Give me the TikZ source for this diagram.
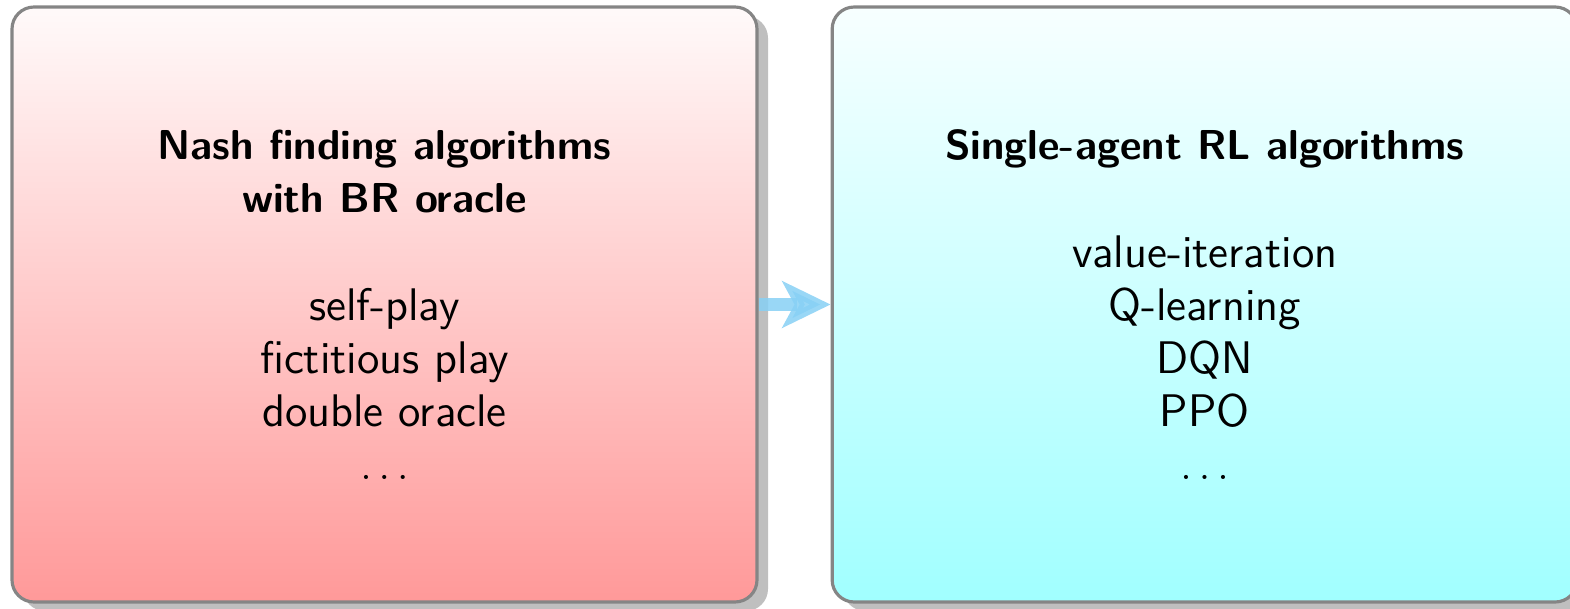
\documentclass[tikz,border=0pt]{standalone}
\usepackage{tikz}
\usetikzlibrary{shadows, arrows.meta, positioning}
\definecolor{arrowblue}{RGB}{135,208,245}
\newcommand{\boxtitle}[1]{{\fontsize{11.9}{15.1}\selectfont\bfseries #1}}

\begin{document}
\begin{tikzpicture}[
        algobox/.style={draw=black!48, line width=0.9pt, rounded corners=0.22cm, minimum width=7.45cm, minimum height=5.95cm, align=center, font=\sffamily\fontsize{13}{15.1}\selectfont, drop shadow={shadow xshift=0.11cm, shadow yshift=-0.09cm, fill=black!25, opacity=1}},
        bigarrow/.style={-{Stealth[length=0.48cm, width=0.46cm, inset=0.12cm]}, line width=0.13cm, draw=arrowblue, opacity=0.85}
    ]
        \useasboundingbox (0,0) rectangle (15.70,-6.09);

        % Boxes
        \node[algobox, top color=red!2, bottom color=red!40] (nash) at (3.845, -3.045) {\boxtitle{Nash finding algorithms}\\\boxtitle{with BR oracle}\\[0.55cm] self-play\\ fictitious play\\ double oracle\\ $\ldots$};
        \node[algobox, top color=cyan!3, bottom color=cyan!37, right=0.72cm of nash] (rl) {\boxtitle{Single-agent RL algorithms}\\[0.55cm] value-iteration\\ Q-learning\\ DQN\\ PPO\\ $\ldots$};

        % Arrow
        \draw[bigarrow] (nash.east) -- (rl.west);
    \end{tikzpicture}
\end{document}
